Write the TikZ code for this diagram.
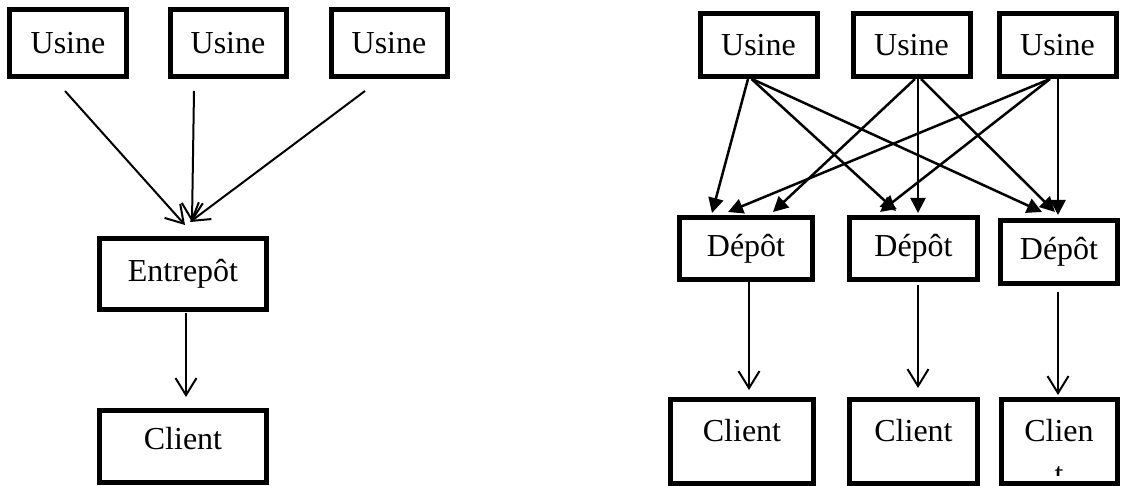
\documentclass[tikz,border=0pt]{standalone}
\usepackage{fontspec}
\setmainfont{Liberation Serif}
\usetikzlibrary{positioning,arrows.meta}

\begin{document}
\begin{tikzpicture}[>={Straight Barb[length=17pt,width=21pt]}, line width=2pt, node distance=40pt,
    box/.style={draw, rectangle, line width=5pt, font=\fontsize{32}{38}\selectfont},
    usine/.style={box, minimum width=116pt, minimum height=67pt},
    depot/.style={box, minimum width=133pt, minimum height=62pt},
    client/.style={box, minimum height=84pt, text height=22pt, text depth=21pt}]
    \useasboundingbox (-68pt,43pt) rectangle (1057pt,-443pt);

    % one warehouse
    \node[usine] (1) {Usine};
    \node[usine] (2) [right=39pt of 1] {Usine};
    \node[usine] (3) [right=40pt of 2] {Usine};
    \node[box, minimum width=167pt, minimum height=71pt] (4) [below=157pt of 2, xshift=-45pt] {Entrepôt};
    \node[box, minimum width=167pt, minimum height=72pt, text height=22pt, text depth=15pt] (5) [below=96pt of 4] {Client};

    % several depots
    \node[usine, minimum width=117pt, minimum height=63pt] (6) [right=248pt of 3, yshift=-2pt] {Usine};
    \node[usine, minimum width=117pt, minimum height=63pt] (7) [right=31pt of 6] {Usine};
    \node[usine, minimum width=117pt, minimum height=63pt] (8) [right=24pt of 7] {Usine};
    \node[depot] (9) [below=136pt of 6, xshift=-12.5pt] {Dépôt};
    \node[depot, minimum width=128pt] (10) [right=32pt of 9] {Dépôt};
    \node[depot, minimum width=117pt, minimum height=63pt] (11) [right=18pt of 10, yshift=-3.5pt] {Dépôt};
    \node[client, minimum width=143pt] (12) [below=115pt of 9, xshift=-4pt] {Client};
    \node[client, minimum width=128pt] (13) [below=115pt of 10] {Client};
    \node[client, minimum width=116pt] (14) [below=111pt of 11] {Clien};
    \begin{scope}
        \clip ([yshift=-34pt]14.base west) rectangle (14.north east);
        \node[anchor=base, font=\fontsize{32}{38}\selectfont, inner sep=0pt] (15) at ([yshift=-43pt]14.base) {t};
    \end{scope}

    \path[->]
        ([shift={(-3pt,-12pt)}]1.south) edge ([shift={(2pt,11pt)}]4.north)
        ([shift={(-34pt,-12pt)}]2.south) edge ([shift={(9pt,14pt)}]4.north)
        ([shift={(-24pt,-12pt)}]3.south) edge ([shift={(7pt,14pt)}]4.north)
        ([shift={(3pt,-1pt)}]4.south) edge ([shift={(3pt,11pt)}]5.north)

        ([xshift=3pt]9.south) edge ([shift={(7pt,7pt)}]12.north)
        ([shift={(4.5pt,-3pt)}]10.south) edge ([shift={(4.5pt,9pt)}]13.north)
        ([shift={(-1pt,-6pt)}]11.south) edge ([shift={(-1pt,2pt)}]14.north)
    ;

    \path[-{Triangle[length=15pt,width=15pt]}, line width=2.5pt]
        ([xshift=-10.5pt]6.south) edge ([shift={(-34pt,2pt)}]9.north)
        ([xshift=-7pt]6.south) edge ([shift={(-17.5pt,4pt)}]10.north)
        ([xshift=-6.5pt]6.south) edge ([shift={(-17pt,6pt)}]11.north)

        ([xshift=3.5pt]7.south) edge ([shift={(27pt,3pt)}]9.north)
        ([xshift=6.5pt]7.south) edge ([shift={(4.5pt,2pt)}]10.north)
        ([xshift=9.5pt]7.south) edge ([shift={(-4pt,6pt)}]11.north)

        ([xshift=-7.5pt]8.south) edge ([shift={(-18pt,3pt)}]9.north)
        ([xshift=-7.5pt]8.south) edge ([shift={(-33.5pt,3pt)}]10.north)
        ([xshift=0.5pt]8.south) edge ([shift={(-1pt,3pt)}]11.north)
    ;
\end{tikzpicture}
\end{document}
